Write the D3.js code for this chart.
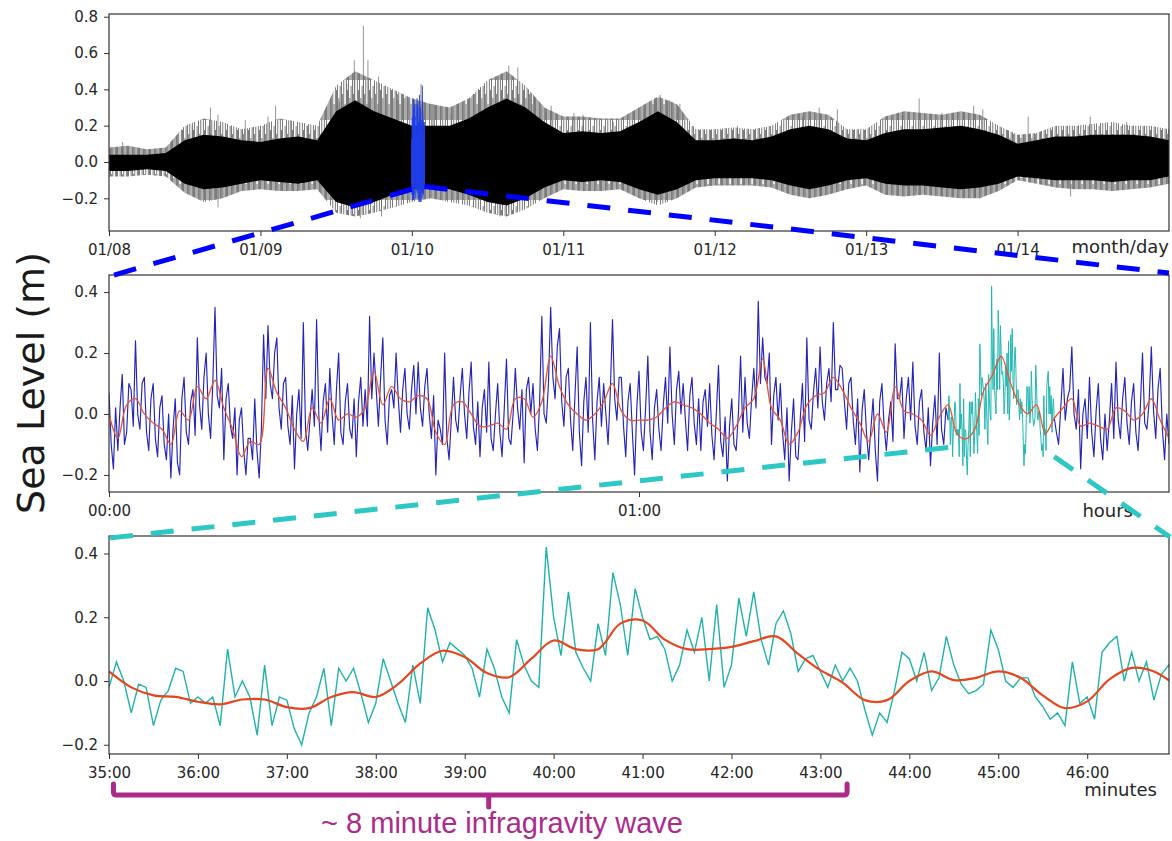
<!DOCTYPE html>
<html>
<head>
<meta charset="utf-8">
<script src="https://cdn.jsdelivr.net/npm/d3@7"></script>
<style>
  body { margin: 0; background: #fff; }
  svg { display: block; }
</style>
</head>
<body>
<svg id="chart"></svg>
<script>
// ---- data ----
// top panel: one week of record, envelope sampled every 3 h (days since 01/08)
var dayTicks = ['01/08', '01/09', '01/10', '01/11', '01/12', '01/13', '01/14'];
var topCoreHi = [0.04,0.04,0.04,0.05,0.12,0.15,0.14,0.12,
  0.11,0.13,0.14,0.12,0.28,0.34,0.28,0.24,
  0.20,0.20,0.20,0.24,0.30,0.35,0.30,0.22,
  0.16,0.17,0.16,0.17,0.22,0.28,0.22,0.12,
  0.12,0.13,0.12,0.14,0.18,0.20,0.18,0.13,
  0.12,0.16,0.18,0.18,0.19,0.20,0.18,0.15,
  0.10,0.12,0.14,0.14,0.15,0.15,0.15,0.14,0.12];
var topCoreLo = [-0.05,-0.05,-0.04,-0.05,-0.12,-0.15,-0.14,-0.12,
  -0.10,-0.11,-0.12,-0.10,-0.22,-0.25,-0.22,-0.18,
  -0.15,-0.14,-0.15,-0.18,-0.22,-0.24,-0.20,-0.14,
  -0.10,-0.11,-0.10,-0.11,-0.15,-0.18,-0.15,-0.10,
  -0.09,-0.09,-0.09,-0.10,-0.13,-0.15,-0.13,-0.10,
  -0.09,-0.12,-0.13,-0.13,-0.14,-0.15,-0.14,-0.12,
  -0.08,-0.09,-0.10,-0.10,-0.10,-0.11,-0.10,-0.10,-0.08];
var topFringeHi = [0.08,0.09,0.07,0.08,0.20,0.24,0.22,0.18,
  0.20,0.24,0.22,0.20,0.42,0.50,0.45,0.40,
  0.35,0.32,0.30,0.35,0.45,0.50,0.42,0.30,
  0.25,0.25,0.24,0.24,0.30,0.36,0.32,0.18,
  0.18,0.19,0.18,0.20,0.26,0.28,0.26,0.18,
  0.18,0.25,0.28,0.27,0.26,0.28,0.26,0.20,
  0.15,0.16,0.20,0.20,0.21,0.22,0.20,0.20,0.18];
var topFringeLo = [-0.08,-0.08,-0.07,-0.08,-0.17,-0.22,-0.20,-0.16,
  -0.15,-0.16,-0.16,-0.15,-0.28,-0.30,-0.28,-0.25,
  -0.22,-0.20,-0.22,-0.24,-0.28,-0.30,-0.26,-0.20,
  -0.15,-0.16,-0.16,-0.15,-0.20,-0.24,-0.20,-0.14,
  -0.13,-0.13,-0.13,-0.14,-0.18,-0.20,-0.18,-0.15,
  -0.13,-0.18,-0.19,-0.18,-0.19,-0.20,-0.20,-0.16,
  -0.10,-0.12,-0.14,-0.15,-0.15,-0.16,-0.15,-0.14,-0.12];
// single tall spikes [day, value]
var topSpikes = [[0.09,0.11],[0.55,0.20],[0.67,0.30],[0.72,0.26],[0.72,-0.25],[0.90,0.23],
  [1.05,0.25],[1.10,0.31],[1.20,0.23],[1.31,0.20],[1.52,0.33],[1.57,0.43],[1.62,0.56],
  [1.68,0.75],[1.71,0.56],[1.78,0.47],[1.66,-0.31],[1.80,-0.30],[1.91,0.34],[2.06,0.43],
  [2.14,0.32],[2.26,0.26],[2.44,0.40],[2.57,0.47],[2.64,0.53],[2.70,0.52],[2.79,0.38],
  [2.58,-0.30],[2.64,-0.28],[2.92,0.31],[3.07,0.27],[3.13,0.26],[3.33,0.22],[3.60,0.34],
  [3.64,0.37],[3.70,0.34],[3.77,0.32],[3.62,-0.22],[4.15,0.20],[4.58,0.25],[4.69,0.30],
  [4.81,0.29],[4.70,-0.19],[5.24,0.26],[5.35,0.35],[5.50,0.27],[5.71,0.31],[5.77,0.29],
  [5.72,-0.19],[5.33,-0.17],[6.07,0.25],[6.35,-0.19],[6.48,0.25],[6.72,0.22]];
var zoomDay = 2;          // middle panel = 01/10 00:00-02:00

// middle panel: two hours, raw every 15 s, smoothed every 1 min
var hourTicks = ['00:00', '01:00'];
var midRaw = [
  0.07,-0.10,-0.18,0.02, -0.12,0.02,0.13,-0.10, -0.06,0.10,0.08,-0.04, 0.24,0.00,-0.05,0.10,
  0.12,-0.06,-0.12,0.05, 0.10,-0.08,-0.14,0.02, 0.06,-0.10,-0.15,0.00, -0.21,-0.05,0.05,-0.16,
  -0.20,0.05,0.12,-0.06, -0.10,0.04,0.08,-0.07, 0.25,0.03,-0.05,0.12, 0.20,0.00,-0.08,0.10,
  0.35,0.06,0.02,0.15, -0.15,0.05,0.10,-0.04, -0.08,0.02,-0.20,-0.02, 0.02,-0.12,-0.20,-0.08,
  -0.08,-0.15,0.05,-0.12, -0.21,-0.05,0.26,0.05, 0.29,0.10,0.05,0.20, 0.25,0.02,-0.05,0.10,
  0.12,-0.04,-0.10,0.06, -0.18,0.00,0.08,-0.08, 0.30,-0.05,-0.12,-0.02, 0.08,-0.04,0.31,0.00,
  -0.12,0.04,0.10,-0.06, 0.15,0.00,-0.10,0.08, 0.20,-0.06,-0.10,0.04, 0.10,-0.05,-0.08,0.05,
  -0.14,0.04,0.12,-0.04, 0.08,-0.04,0.32,0.05, 0.20,0.08,-0.04,0.12, 0.25,-0.02,-0.10,0.06,
  0.08,0.02,0.20,0.05, -0.06,0.08,0.15,0.00, -0.05,0.08,0.16,0.00, 0.17,0.02,-0.04,0.09,
  0.15,0.00,-0.08,0.06, -0.20,-0.02,-0.05,-0.10, 0.20,-0.08,-0.15,-0.02, 0.12,-0.02,-0.06,0.06,
  0.15,0.00,-0.08,0.07, 0.17,-0.04,-0.10,0.04, -0.14,0.02,0.08,-0.06, 0.17,-0.08,-0.12,0.00,
  0.10,-0.06,-0.14,0.02, 0.18,-0.08,-0.10,0.00, 0.15,0.02,-0.05,0.08, -0.16,0.08,0.12,0.00,
  0.10,-0.05,-0.12,0.04, 0.32,0.00,-0.03,0.10, 0.35,0.12,0.05,0.22, 0.28,0.04,-0.04,0.12,
  0.15,-0.02,-0.12,0.06, 0.22,-0.06,-0.17,0.04, 0.12,-0.06,0.30,-0.02, -0.15,0.04,0.12,-0.04,
  0.10,0.00,-0.10,0.07, 0.31,0.05,-0.02,0.12, 0.12,-0.04,-0.14,0.04, 0.10,-0.06,-0.20,0.02,
  0.14,-0.06,-0.12,0.02, 0.19,-0.06,-0.15,0.02, 0.08,-0.05,-0.12,0.03, 0.12,-0.03,0.22,0.00,
  -0.10,0.08,0.14,0.00, 0.10,-0.02,-0.12,0.06, 0.12,-0.03,-0.10,0.05, -0.12,0.04,0.08,-0.04,
  0.10,-0.07,-0.15,0.00, 0.16,-0.09,-0.14,-0.01, -0.22,-0.04,0.05,-0.10, -0.12,0.00,0.19,-0.06,
  0.12,-0.03,-0.08,0.05, 0.15,0.02,0.37,0.10, 0.25,0.12,0.10,0.20, -0.10,0.06,0.12,-0.02,
  0.10,-0.06,-0.15,0.02, -0.22,-0.06,0.05,-0.14, -0.15,-0.02,0.10,-0.09, 0.25,-0.02,-0.05,0.07,
  0.15,0.02,0.22,0.04, -0.02,0.10,0.15,0.04, 0.30,0.08,0.08,0.16, 0.15,0.04,-0.05,0.10,
  0.12,-0.02,-0.10,0.05, -0.19,0.01,0.08,-0.06, -0.15,-0.05,0.05,-0.12, -0.22,0.04,0.10,-0.04,
  -0.12,-0.02,0.04,-0.09, 0.23,0.05,0.05,0.12, -0.08,0.05,0.12,-0.02, 0.17,-0.04,-0.10,0.04,
  0.08,-0.06,-0.12,0.02, -0.17,-0.03,0.06,-0.10, 0.20,-0.05,-0.10,0.02,
  -0.02,null,null,null, null,null,null,null, null,null,null,null, null,null,null,null,
  null,null,null,null, null,null,null,null, null,null,null,null, null,null,null,null,
  null,null,null,null, null,null,null,null, null,null,null,null, null,null,null,null,
  -0.01,-0.06,-0.10,0.02, 0.15,-0.02,0.05,0.08, 0.22,0.00,-0.05,0.08, -0.18,0.00,0.05,-0.08,
  0.12,-0.06,-0.14,0.01, 0.10,-0.08,-0.15,0.00, -0.12,-0.02,0.10,-0.08, 0.17,-0.02,-0.08,0.05,
  0.12,-0.03,-0.10,0.04, 0.10,-0.06,-0.12,0.02, 0.20,-0.03,-0.05,0.04, 0.22,0.01,-0.08,0.08,
  0.15,-0.05,-0.15,0.00, -0.10];
var midSmooth = [0.00,-0.08,0.03,0.05,0.00,-0.03,-0.05,-0.10,0.01,-0.02,
  0.09,0.05,0.11,0.02,-0.05,-0.14,-0.09,-0.10,0.15,0.07,
  0.02,-0.05,-0.09,0.02,-0.03,0.05,-0.02,0.00,-0.01,0.02,
  0.14,0.03,0.09,0.05,0.04,0.06,0.05,-0.06,-0.10,0.03,
  0.04,0.00,-0.04,-0.04,-0.03,-0.05,0.05,0.05,-0.01,0.04,
  0.19,0.09,0.03,0.00,-0.02,0.00,0.04,0.10,0.01,-0.02,
  -0.02,-0.02,-0.01,0.02,0.04,0.03,0.02,0.00,-0.03,-0.05,
  -0.08,-0.04,0.02,0.05,0.18,0.02,-0.02,-0.10,-0.06,0.03,
  0.06,0.07,0.12,0.08,0.02,-0.03,-0.09,0.00,-0.06,0.09,
  0.01,0.00,-0.02,-0.07,-0.01,0.03,-0.065,-0.082,-0.05,0.075,
  0.127,0.19,0.107,0.034,0.00,0.03,-0.064,-0.015,0.02,0.05,
  -0.04,-0.03,-0.04,-0.05,0.02,0.01,-0.02,0.00,0.05,-0.02,-0.08];
var windowStart = 95;     // minutes into the middle panel where the bottom panel starts

// bottom panel: 12 minutes, raw every 5 s, smoothed every 15 s
var minuteTicks = ['35:00','36:00','37:00','38:00','39:00','40:00','41:00','42:00','43:00','44:00','45:00','46:00'];
var zoomRaw = [-0.02,0.06,0.00,-0.10,-0.01,-0.02,-0.14,-0.06,-0.03,0.04,0.03,-0.07,
  -0.05,-0.07,-0.05,-0.14,0.10,-0.05,0.00,-0.05,-0.17,0.05,-0.14,-0.05,
  -0.06,-0.15,-0.20,-0.10,-0.05,0.04,-0.14,0.04,0.00,0.04,-0.04,-0.13,
  -0.07,0.07,0.00,-0.07,-0.13,0.05,-0.07,0.23,0.16,0.06,0.12,0.10,
  0.08,0.04,-0.05,0.10,0.04,-0.05,-0.10,0.13,0.05,0.00,-0.02,0.42,
  0.20,0.08,0.28,0.09,0.04,0.00,0.18,0.08,0.34,0.24,0.08,0.29,
  0.20,0.13,0.14,0.10,0.00,0.05,0.16,0.09,0.20,0.00,0.24,-0.02,
  0.05,0.26,0.14,0.28,0.13,0.05,0.18,0.22,0.15,0.03,0.07,0.08,
  0.03,-0.02,0.05,0.00,0.04,0.00,-0.09,-0.17,-0.10,-0.13,-0.03,0.09,
  0.07,0.00,0.09,-0.03,0.01,0.14,0.05,-0.01,-0.04,-0.03,-0.01,0.16,
  0.10,0.00,-0.02,0.01,0.01,-0.05,-0.08,-0.12,-0.10,-0.14,0.06,-0.07,
  -0.05,-0.12,0.09,0.12,0.14,0.00,0.09,0.00,0.06,-0.06,0.02,0.05,-0.01];
var zoomSmooth = [0.03,-0.02,-0.045,-0.05,-0.065,-0.073,-0.058,-0.058,-0.082,-0.085,
  -0.05,-0.035,-0.05,-0.01,0.055,0.095,0.075,0.025,0.012,0.07,
  0.127,0.10,0.10,0.18,0.19,0.13,0.10,0.10,0.107,0.125,
  0.14,0.085,0.034,-0.005,-0.06,-0.06,0.00,0.03,0.003,0.01,
  0.03,0.01,-0.045,-0.085,-0.064,0.005,0.041,0.03,-0.015];
var waveLabel = '~ 8 minute infragravity wave';

// ---- layout ----
var WIDTH = 1172, HEIGHT = 841;
var LEFT = 109, RIGHT = 1169;
var svg = d3.select('#chart').attr('width', WIDTH).attr('height', HEIGHT);

var ink = '#262626';
var fmt = d3.format('.1f');

function frame(id, yTop, yBot) {
  var g = svg.append('g').attr('id', id);
  g.append('clipPath').attr('id', id + '-clip')
    .append('rect').attr('x', LEFT).attr('y', yTop).attr('width', RIGHT - LEFT).attr('height', yBot - yTop);
  return g;
}

function axes(g, x, y, yTop, yBot, xTicks, xLabels) {
  var botAxis = d3.axisBottom(x).tickValues(xTicks)
    .tickFormat(function(d, i){ return xLabels[i]; })
    .tickSize(5).tickPadding(8);
  var leftAxis = d3.axisLeft(y).tickValues([-0.2, 0, 0.2, 0.4, 0.6, 0.8].filter(function(v){
      return v >= y.domain()[0] && v <= y.domain()[1];
    }))
    .tickFormat(fmt).tickSize(5).tickPadding(6);
  var gx = g.append('g').attr('transform', 'translate(0,' + yBot + ')').call(botAxis);
  var gy = g.append('g').attr('transform', 'translate(' + LEFT + ',0)').call(leftAxis);
  [gx, gy].forEach(function(a){
    a.select('.domain').remove();
    a.selectAll('line').attr('stroke', '#333');
    a.selectAll('text').attr('fill', ink).style('font-family', 'DejaVu Sans').style('font-size', '15px');
  });
  g.append('rect').attr('x', LEFT).attr('y', yTop).attr('width', RIGHT - LEFT).attr('height', yBot - yTop)
    .attr('fill', 'none').attr('stroke', '#333').attr('stroke-width', 1.2);
}

// ---- top panel ----
var T_TOP = 14, T_BOT = 231;
var xTop = d3.scaleLinear().domain([0, 7]).range([LEFT, RIGHT]);
var yTop = d3.scaleLinear().domain([-0.38, 0.815]).range([T_BOT, T_TOP]);
var topDays = topCoreHi.map(function(d, i){ return i / 8; });

// hairy texture for the thin outer fringe of the dense record
var defs = svg.append('defs');
var hair = defs.append('pattern').attr('id', 'hair').attr('patternUnits', 'userSpaceOnUse')
  .attr('width', 11).attr('height', 40);
[[0, 40], [1.3, 26], [2.4, 40], [3.6, 16], [4.9, 40], [6.1, 30], [7.2, 40], [8.5, 22], [9.7, 34]].forEach(function(h){
  hair.append('rect').attr('x', h[0]).attr('y', 40 - h[1]).attr('width', 0.8).attr('height', h[1]).attr('fill', '#000');
});

var gTop = frame('top', T_TOP, T_BOT);
var pTop = gTop.append('g').attr('clip-path', 'url(#top-clip)');

pTop.append('path')
  .datum(topDays)
  .attr('d', d3.area()
    .x(function(d){ return xTop(d); })
    .y0(function(d, i){ return yTop(topFringeLo[i]); })
    .y1(function(d, i){ return yTop(topFringeHi[i]); }))
  .attr('fill', 'url(#hair)').attr('opacity', 0.65);

pTop.selectAll('line.spike').data(topSpikes).enter().append('line')
  .attr('class', 'spike')
  .attr('x1', function(d){ return xTop(d[0]); })
  .attr('x2', function(d){ return xTop(d[0]); })
  .attr('y1', yTop(0))
  .attr('y2', function(d){ return yTop(d[1]); })
  .attr('stroke', '#666').attr('stroke-width', 0.7);

pTop.append('path')
  .datum(topDays)
  .attr('d', d3.area()
    .x(function(d){ return xTop(d); })
    .y0(function(d, i){ return yTop(topCoreLo[i]); })
    .y1(function(d, i){ return yTop(topCoreHi[i]); }))
  .attr('fill', '#000');

// the two hours shown in the middle panel, in blue
var blueLine = d3.line()
  .defined(function(d){ return d[1] !== null; })
  .x(function(d){ return xTop(zoomDay + d[0] / 1440); })
  .y(function(d){ return yTop(d[1]); });
var midPairs = midRaw.map(function(v, i){ return [i * 0.25, v]; });
var zoomPairs = zoomRaw.map(function(v, i){ return [windowStart + i / 12, v]; });
pTop.append('path').datum(midPairs).attr('d', blueLine)
  .attr('fill', 'none').attr('stroke', '#1f3de6').attr('stroke-width', 0.7);
pTop.append('path').datum(zoomPairs).attr('d', blueLine)
  .attr('fill', 'none').attr('stroke', '#1f3de6').attr('stroke-width', 0.7);

axes(gTop, xTop, yTop, T_TOP, T_BOT, d3.range(0, 7), dayTicks);
gTop.append('text').attr('x', RIGHT).attr('y', 253).attr('text-anchor', 'end')
  .attr('fill', ink).style('font-family', 'DejaVu Sans').style('font-size', '18px').text('month/day');

// ---- middle panel ----
var M_TOP = 275, M_BOT = 492;
var xMid = d3.scaleLinear().domain([0, 120]).range([LEFT, RIGHT]);
var yMid = d3.scaleLinear().domain([-0.256, 0.456]).range([M_BOT, M_TOP]);
var gMid = frame('mid', M_TOP, M_BOT);
var pMid = gMid.append('g').attr('clip-path', 'url(#mid-clip)');

var midLine = d3.line()
  .defined(function(d){ return d[1] !== null; })
  .x(function(d){ return xMid(d[0]); })
  .y(function(d){ return yMid(d[1]); });
pMid.append('path').datum(midPairs).attr('d', midLine)
  .attr('fill', 'none').attr('stroke', '#2424b6').attr('stroke-width', 1.15)
  .attr('stroke-linejoin', 'round');
pMid.append('path').datum(zoomPairs).attr('d', midLine)
  .attr('fill', 'none').attr('stroke', '#22b8b2').attr('stroke-width', 1.0);
pMid.append('path')
  .datum(midSmooth.map(function(v, i){ return [i, v]; }))
  .attr('d', midLine.curve(d3.curveCatmullRom))
  .attr('fill', 'none').attr('stroke', '#e8552d').attr('stroke-width', 1.3);

axes(gMid, xMid, yMid, M_TOP, M_BOT, [0, 60], hourTicks);
gMid.append('text').attr('x', 1133).attr('y', 517).attr('text-anchor', 'end')
  .attr('fill', ink).style('font-family', 'DejaVu Sans').style('font-size', '18px').text('hours');

// ---- bottom panel ----
var B_TOP = 536, B_BOT = 754;
var xBot = d3.scaleLinear().domain([35, 46.92]).range([LEFT, RIGHT]);
var yBot = d3.scaleLinear().domain([-0.229, 0.455]).range([B_BOT, B_TOP]);
var gBot = frame('bot', B_TOP, B_BOT);
var pBot = gBot.append('g').attr('clip-path', 'url(#bot-clip)');

var botLine = d3.line()
  .x(function(d){ return xBot(d[0]); })
  .y(function(d){ return yBot(d[1]); });
pBot.append('path')
  .datum(zoomRaw.map(function(v, i){ return [35 + i / 12, v]; }))
  .attr('d', botLine)
  .attr('fill', 'none').attr('stroke', '#20b2aa').attr('stroke-width', 1.4);
pBot.append('path')
  .datum(zoomSmooth.map(function(v, i){ return [35 + i / 4, v]; }))
  .attr('d', botLine.curve(d3.curveCatmullRom))
  .attr('fill', 'none').attr('stroke', '#e4461e').attr('stroke-width', 2.2);

axes(gBot, xBot, yBot, B_TOP, B_BOT, d3.range(35, 47), minuteTicks);
gBot.append('text').attr('x', 1157).attr('y', 796).attr('text-anchor', 'end')
  .attr('fill', ink).style('font-family', 'DejaVu Sans').style('font-size', '18px').text('minutes');

// ---- zoom connectors ----
var conn = svg.append('g').attr('fill', 'none').attr('stroke-width', 5).attr('stroke-dasharray', '23,18');
conn.append('line')
  .attr('x1', xTop(zoomDay)).attr('y1', yTop(-0.15))
  .attr('x2', xMid(0)).attr('y2', M_TOP + 1.5)
  .attr('stroke', '#0000ff');
conn.append('line')
  .attr('x1', xTop(zoomDay + 2 / 24)).attr('y1', yTop(-0.135))
  .attr('x2', xMid(120)).attr('y2', M_TOP - 2)
  .attr('stroke', '#0000ff');
conn.append('line')
  .attr('x1', xMid(windowStart)).attr('y1', yMid(-0.11))
  .attr('x2', xBot(35)).attr('y2', B_TOP + 2)
  .attr('stroke', '#2ec8c4');
conn.append('line')
  .attr('x1', xMid(windowStart + 12)).attr('y1', yMid(-0.14))
  .attr('x2', RIGHT + 1).attr('y2', B_TOP + 1)
  .attr('stroke', '#2ec8c4');

// ---- y label ----
svg.append('text')
  .attr('transform', 'translate(44,383) rotate(-90)')
  .attr('text-anchor', 'middle')
  .attr('fill', '#1a1a1a')
  .style('font-family', 'DejaVu Sans').style('font-size', '38px')
  .text('Sea Level (m)');

// ---- infragravity bracket ----
var magenta = '#ad2a8b';
var bx0 = xBot(35.05), bx1 = xBot(43.3), bxm = xBot(39.27), by = 795;
svg.append('path')
  .attr('d', 'M' + bx0 + ',' + (by - 11) + ' L' + bx0 + ',' + (by - 3) + ' Q' + bx0 + ',' + by + ' ' + (bx0 + 3) + ',' + by +
    ' L' + (bx1 - 3) + ',' + by + ' Q' + bx1 + ',' + by + ' ' + bx1 + ',' + (by - 3) + ' L' + bx1 + ',' + (by - 11) +
    ' M' + bxm + ',' + by + ' L' + bxm + ',' + (by + 12))
  .attr('fill', 'none').attr('stroke', magenta).attr('stroke-width', 5)
  .attr('stroke-linecap', 'round').attr('stroke-linejoin', 'round');
svg.append('text')
  .attr('x', 502).attr('y', 833).attr('text-anchor', 'middle')
  .attr('fill', magenta)
  .style('font-family', 'Liberation Sans').style('font-size', '29px')
  .text(waveLabel);
</script>
</body>
</html>
